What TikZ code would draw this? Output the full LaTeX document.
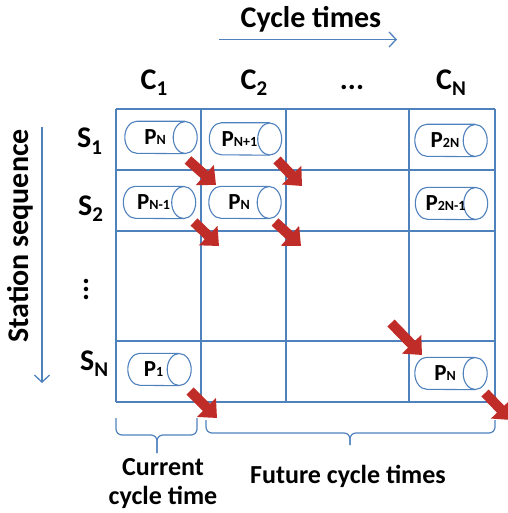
\documentclass[tikz,border=0pt]{standalone}
\usepackage{fontspec}
\setmainfont{Carlito}
\usetikzlibrary{arrows.meta,calc}
\definecolor{gridblue}{RGB}{79,129,189}
\definecolor{arrred}{RGB}{192,45,40}
\newcommand{\plbl}[1]{{\fontsize{23}{23}\selectfont P}{\fontsize{14}{14}\selectfont #1}}
\newcommand{\hdr}[2]{#1\raisebox{-6pt}{\fontsize{21}{21}\selectfont #2}}
\newcommand{\cylnode}[5]{%
  \node[cylbox, minimum width=#4pt] (#1) at (#2,#3) {};
  \draw[cylline, fill=white] ([xshift=-12pt]#1.north east) -- ([xshift=12pt]#1.north west)
    arc[start angle=90, end angle=270, x radius=12pt, y radius=16pt]
    -- ([xshift=-12pt]#1.south east);
  \draw[cylline, fill=white] ([xshift=-12pt]#1.east) ellipse [x radius=12pt, y radius=16pt];
  \node[inner sep=0pt] (#1-t) at ([xshift=-6pt]#1.center) {#5};}
\begin{document}
\begin{tikzpicture}[x=1pt,y=-1pt,font=\bfseries,
  cylbox/.style={rectangle, minimum height=32pt, inner sep=0pt},
  cylline/.style={draw=gridblue, line width=1.1pt},
  gridline/.style={gridblue, line width=1.3pt},
  redarrow/.style={arrred, line width=10pt, -{Triangle[length=15pt,width=26pt]}},
  bluearrow/.style={gridblue, line width=1.3pt, -{Straight Barb[length=7pt,width=15pt]}},
  bigtxt/.style={font=\bfseries\fontsize{30}{30}\selectfont, inner sep=0pt},
  bracetxt/.style={font=\bfseries\fontsize{26}{29}\selectfont, inner sep=0pt, align=center},
  bracepath/.style={gridblue, line width=1.2pt, rounded corners=6pt}]
\useasboundingbox (0,0) rectangle (507,513);
% grid
\foreach \y in {109,170,231,341,402} \draw[gridline] (116,\y) -- (495,\y);
\foreach \x in {116,201,286,409,495} \draw[gridline] (\x,109) -- (\x,402);
% title
\node[bigtxt] (title) at (311,19) {Cycle times};
\coordinate (ta) at (219,39.5);
\coordinate (tb) at (397,39.5);
\draw[bluearrow] (ta) -- (tb);
% column headers
\node[bigtxt, anchor=base] (c1) at (154,90) {\hdr{C}{1}};
\node[bigtxt, anchor=base] (c2) at (254,90) {\hdr{C}{2}};
\node[bigtxt, anchor=base] (cd) at (352,90) {...};
\node[bigtxt, anchor=base] (cn) at (451,90) {\hdr{C}{N}};
% row headers
\node[bigtxt, anchor=base west] (s1) at (77,148) {\hdr{S}{1}};
\node[bigtxt, anchor=base west] (s2) at (78,215) {\hdr{S}{2}};
\node[bigtxt, rotate=90] (sd) at (86,289) {...};
\node[bigtxt, anchor=base west] (sn) at (80,370) {\hdr{S}{N}};
% station sequence
\node[bigtxt, rotate=90] (ss) at (20,236) {Station sequence};
\coordinate (sa) at (42,127);
\coordinate (sb) at (42,383);
\draw[bluearrow] (sa) -- (sb);
% cylinders
\cylnode{p11}{161}{137.5}{72}{\plbl{N}}
\cylnode{p12}{245.5}{139}{72}{\plbl{N+1}}
\cylnode{p1n}{451}{140.5}{72}{\plbl{2N}}
\cylnode{p21}{159.5}{202.5}{72}{\plbl{N-1}}
\cylnode{p22}{245}{202.5}{72}{\plbl{N}}
\cylnode{p2n}{451.5}{203.5}{72}{\plbl{2N-1}}
\cylnode{pn1}{159.5}{369.5}{63}{\plbl{1}}
\cylnode{pnn}{451}{373.5}{72}{\plbl{N}}
% red arrows
\coordinate (a1s) at (188,160); \coordinate (a1e) at (216,185);
\coordinate (a2s) at (277,160); \coordinate (a2e) at (302,186);
\coordinate (a3s) at (194,222); \coordinate (a3e) at (219,246);
\coordinate (a4s) at (275,222); \coordinate (a4e) at (301,246);
\coordinate (a5s) at (391,323); \coordinate (a5e) at (422,355);
\coordinate (a6s) at (190,391); \coordinate (a6e) at (217,418);
\coordinate (a7s) at (485,393); \coordinate (a7e) at (511,420);
\foreach \a in {1,...,7} \draw[redarrow] (a\a s) -- (a\a e);
% braces
\draw[bracepath] (116,418) -- (116,435) -- (157,435) -- (157,453);
\draw[bracepath] (197,418) -- (197,435) -- (157,435) -- (157,453);
\draw[bracepath] (206,420) -- (206,433) -- (350,433) -- (350,445);
\draw[bracepath] (495,420) -- (495,433) -- (350,433) -- (350,445);
% brace labels
\node[bracetxt] (cur) at (163,484) {Current\\cycle time};
\node[bracetxt] (fut) at (348,476) {Future cycle times};
\end{tikzpicture}
\end{document}
